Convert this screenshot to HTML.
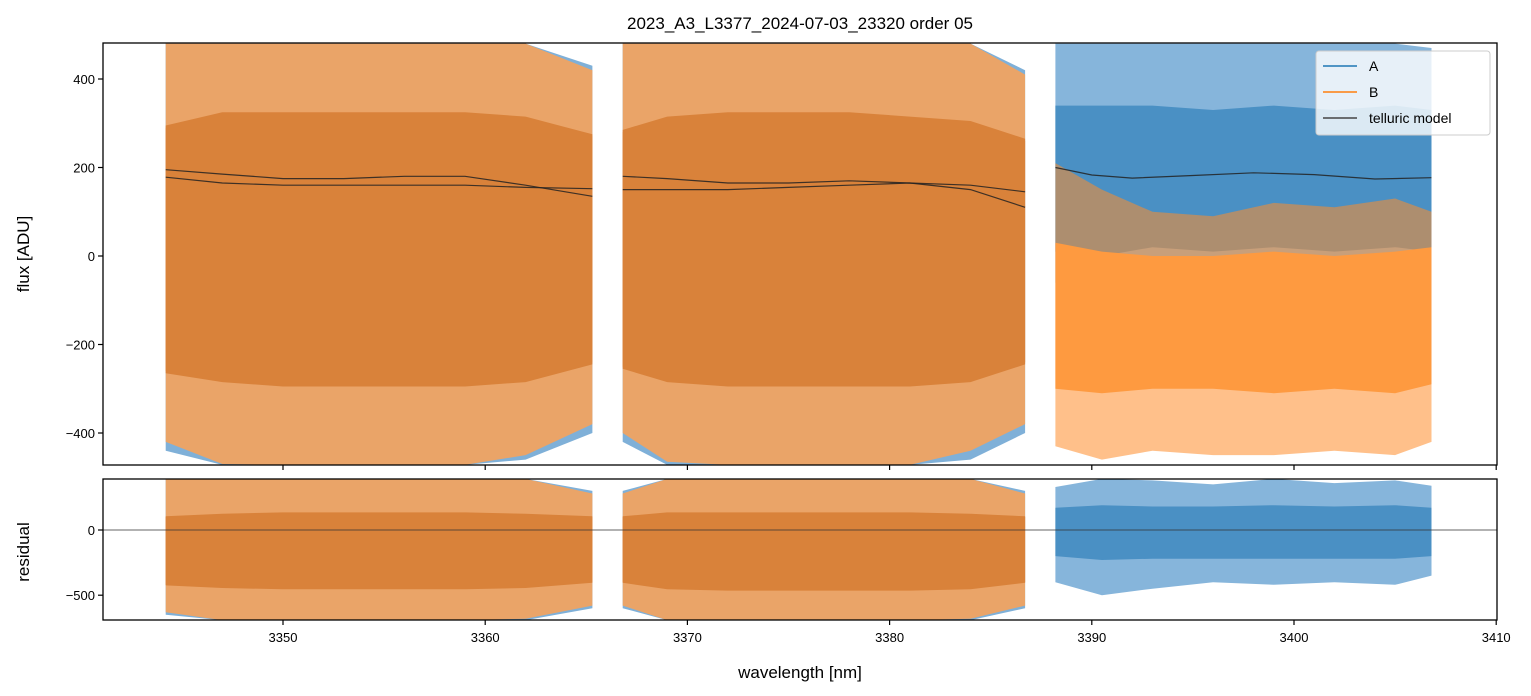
<!DOCTYPE html>
<html><head><meta charset="utf-8"><style>
body{margin:0;background:#fff;}
svg{display:block;font-family:"Liberation Sans","DejaVu Sans",sans-serif;}
</style></head><body>
<svg id="chart" width="1531" height="696" viewBox="0 0 1531 696">
<text x="800" y="29" font-size="17" text-anchor="middle">2023_A3_L3377_2024-07-03_23320  order 05</text>
<g id="main"></g>
<g id="resid"></g>
<text x="800" y="678" font-size="17" text-anchor="middle">wavelength [nm]</text>
<text transform="translate(29,254) rotate(-90)" font-size="17" text-anchor="middle">flux [ADU]</text>
<text transform="translate(29,552) rotate(-90)" font-size="17" text-anchor="middle">residual</text>
</svg>
<script>
// ---- data ----
const segWl = [
  [3344.2,3347,3350,3353,3356,3359,3362,3365.3],
  [3366.8,3369,3372,3375,3378,3381,3384,3386.7],
  [3388.2,3390.5,3393,3396,3399,3402,3405,3406.8]
];
const aOuterLo = [[-440,-472,-472,-472,-472,-472,-460,-400],[-420,-472,-472,-472,-472,-472,-460,-400],[-60,-120,-100,-80,-90,-100,-110,-60]];
const aInnerLo = [[-260,-280,-290,-290,-290,-290,-280,-240],[-250,-280,-290,-290,-290,-290,-280,-240],[10,0,20,10,20,10,20,10]];
const aInnerHi = [[290,320,320,320,320,320,310,270],[280,310,320,320,320,310,300,260],[340,340,340,330,340,330,340,330]];
const aOuterHi = [[480,480,480,480,480,480,480,430],[480,480,480,480,480,480,480,420],[480,480,480,480,480,480,480,470]];
const bOuterLo = [[-420,-470,-472,-472,-472,-472,-450,-380],[-400,-465,-472,-472,-472,-472,-440,-380],[-430,-460,-440,-450,-450,-440,-450,-420]];
const bInnerLo = [[-265,-285,-295,-295,-295,-295,-285,-245],[-255,-285,-295,-295,-295,-295,-285,-245],[-300,-310,-300,-300,-310,-300,-310,-290]];
const bInnerHi = [[295,325,325,325,325,325,315,275],[285,315,325,325,325,315,305,265],[30,10,0,0,10,0,10,20]];
const bOuterHi = [[480,480,480,480,480,480,480,420],[480,480,480,480,480,480,480,410],[210,150,100,90,120,110,130,100]];
const tellWl = [3344.2,3347,3350,3353,3356,3359,3362,3365.3, null, 3366.8,3369,3372,3375,3378,3381,3384,3386.7];
const tell1 = [195,185,175,175,180,180,160,135, null, 180,175,165,165,170,165,150,110];
const tell2 = [178,165,160,160,160,160,155,152, null, 150,150,150,155,160,165,160,145];
const tell3Wl = [3388.2,3390,3392,3395,3398,3401,3404,3406.8];
const tell3 = [200,183,176,182,188,184,174,177];
const raOuterLo = [[-650,-692,-692,-692,-692,-692,-692,-600],[-600,-692,-692,-692,-692,-692,-692,-600],[-400,-500,-450,-400,-420,-400,-420,-350]];
const raInnerLo = [[-420,-440,-450,-450,-450,-450,-440,-400],[-400,-450,-460,-460,-460,-460,-450,-400],[-200,-230,-220,-220,-220,-220,-220,-200]];
const raInnerHi = [[100,120,130,130,130,130,120,100],[100,130,130,130,130,130,120,100],[170,190,180,180,190,180,190,170]];
const raOuterHi = [[392,392,392,392,392,392,392,300],[300,392,392,392,392,392,392,300],[330,392,380,350,392,360,380,340]];
const rbOuterLo = [[-630,-692,-692,-692,-692,-692,-680,-580],[-580,-692,-692,-692,-692,-692,-680,-580]];
const rbInnerLo = [[-425,-445,-455,-455,-455,-455,-445,-405],[-405,-455,-465,-465,-465,-465,-455,-405]];
const rbInnerHi = [[105,125,135,135,135,135,125,105],[105,135,135,135,135,135,125,105]];
const rbOuterHi = [[392,392,392,392,392,392,392,280],[280,392,392,392,392,392,392,280]];
const xTicks = [3350,3360,3370,3380,3390,3400,3410];
const yTicks = [400,200,0,-200,-400];
const ryTicks = [0,-500];

const L=103,R=1497, MT=43,MB=465, RT=479,RB=620;
const x = v => 283 + (v-3350)*20.22;
const y = v => 256 - v*0.4425;
const ry = v => 530 - v*0.1304;
const NS='http://www.w3.org/2000/svg';
function mk(tag,attrs,parent){const e=document.createElementNS(NS,tag);for(const k in attrs)e.setAttribute(k,attrs[k]);parent.appendChild(e);return e;}
const svg=document.getElementById('chart');
const defs=mk('defs',{},svg);
const c1=mk('clipPath',{id:'cm'},defs);mk('rect',{x:L,y:MT,width:R-L,height:MB-MT},c1);
const c2=mk('clipPath',{id:'cr'},defs);mk('rect',{x:L,y:RT,width:R-L,height:RB-RT},c2);
const main=document.getElementById('main'), resid=document.getElementById('resid');
const gm=mk('g',{'clip-path':'url(#cm)'},main);
const gr=mk('g',{'clip-path':'url(#cr)'},resid);

function band(g,wl,lo,hi,col,op,yf,name){
  let d='M'+wl.map((w,i)=>x(w).toFixed(1)+','+yf(hi[i]).toFixed(1)).join('L');
  for(let i=wl.length-1;i>=0;i--) d+='L'+x(wl[i]).toFixed(1)+','+yf(lo[i]).toFixed(1);
  const p=mk('path',{d:d+'Z',fill:col,'fill-opacity':op},g);
  
  
}
const CA='#1f77b4', CB='#ff7f0e';
for(let s=0;s<3;s++){
  if(s<2){
    band(gm,segWl[s],aOuterLo[s],aOuterHi[s],'#7fb0d8',1,y,'series-a-spikes');
    band(gm,segWl[s],bOuterLo[s],bOuterHi[s],'#eaa468',1,y,'series-b-spikes');
    band(gm,segWl[s],aInnerLo[s],aInnerHi[s],'#d9823a',1,y,'series-a-core');
    band(gm,segWl[s],bInnerLo[s],bInnerHi[s],'#d9823a',1,y,'series-b-core');
    band(gr,segWl[s],raOuterLo[s],raOuterHi[s],'#7fb0d8',1,ry,'residual-a-spikes');
    band(gr,segWl[s],rbOuterLo[s],rbOuterHi[s],'#eaa468',1,ry,'residual-b-spikes');
    band(gr,segWl[s],raInnerLo[s],raInnerHi[s],'#d9823a',1,ry,'residual-a-core');
    band(gr,segWl[s],rbInnerLo[s],rbInnerHi[s],'#d9823a',1,ry,'residual-b-core');
  } else {
    band(gm,segWl[s],aOuterLo[s],aOuterHi[s],'#86b5db',1,y,'series-a-spikes');
    band(gm,segWl[s],aInnerLo[s],aInnerHi[s],'#4a90c4',1,y,'series-a-core');
    band(gm,segWl[s],bOuterLo[s],bOuterHi[s],'#ff8c2a',0.55,y,'series-b-spikes');
    band(gm,segWl[s],bInnerLo[s],bInnerHi[s],'#fe9a40',1,y,'series-b-core');
    band(gr,segWl[s],raOuterLo[s],raOuterHi[s],'#86b5db',1,ry,'residual-a-spikes');
    band(gr,segWl[s],raInnerLo[s],raInnerHi[s],'#4a90c4',1,ry,'residual-a-core');
  }
}
function line(g,wl,vals,name){
  let d='',pen=false;
  wl.forEach((w,i)=>{ if(w===null){pen=false;return;} d+=(pen?'L':'M')+x(w).toFixed(1)+','+y(vals[i]).toFixed(1); pen=true;});
  const p=mk('path',{d:d,fill:'none',stroke:'#222','stroke-opacity':0.85,'stroke-width':1.2},g);
  
  
}
line(gm,tellWl,tell1,'telluric-model-a');
line(gm,tellWl,tell2,'telluric-model-b');
line(gm,tell3Wl,tell3,'telluric-model-seg3');
const zl=mk('line',{x1:L,x2:R,y1:ry(0),y2:ry(0),stroke:'#333','stroke-width':0.7},gr);



mk('rect',{x:L,y:MT,width:R-L,height:MB-MT,fill:'none',stroke:'#000','stroke-width':1.3},main);
mk('rect',{x:L,y:RT,width:R-L,height:RB-RT,fill:'none',stroke:'#000','stroke-width':1.3},resid);
xTicks.forEach(t=>{
  mk('line',{x1:x(t),x2:x(t),y1:MB,y2:MB+5,stroke:'#000','stroke-width':1.2},main);
  mk('line',{x1:x(t),x2:x(t),y1:RB,y2:RB+5,stroke:'#000','stroke-width':1.2},resid);
  const tx=mk('text',{x:x(t),y:RB+22,'font-size':13,'text-anchor':'middle'},resid);
  tx.textContent=t;
  
  
});
yTicks.forEach(t=>{
  mk('line',{x1:L-5,x2:L,y1:y(t),y2:y(t),stroke:'#000','stroke-width':1.2},main);
  const tx=mk('text',{x:L-8,y:y(t)+5,'font-size':13,'text-anchor':'end'},main);
  tx.textContent=t<0?'\u2212'+(-t):t;
  
  
});
ryTicks.forEach(t=>{
  mk('line',{x1:L-5,x2:L,y1:ry(t),y2:ry(t),stroke:'#000','stroke-width':1.2},resid);
  const tx=mk('text',{x:L-8,y:ry(t)+5,'font-size':13,'text-anchor':'end'},resid);
  tx.textContent=t<0?'\u2212'+(-t):t;
  
  
});
const lg=mk('g',{},svg);


mk('rect',{x:1316,y:51,width:174,height:84,rx:3,fill:'#fff','fill-opacity':0.8,stroke:'#ccc'},lg);
[['A',CA],['B',CB],['telluric model','#444']].forEach((e,i)=>{
  const yy=66+i*26;
  mk('line',{x1:1323,x2:1357,y1:yy,y2:yy,stroke:e[1],'stroke-width':1.6},lg);
  const t=mk('text',{x:1369,y:yy+5,'font-size':14},lg);
  t.textContent=e[0];
  
  
});
</script>
</body></html>
